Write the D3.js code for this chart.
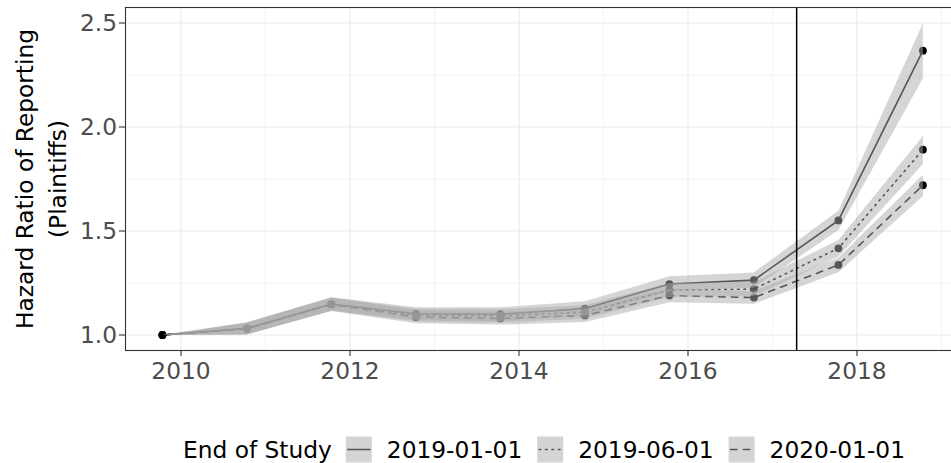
<!DOCTYPE html>
<html>
<head>
<meta charset="utf-8">
<script src="https://cdn.jsdelivr.net/npm/d3@7"></script>
<style>
  html, body { margin: 0; padding: 0; background: #fff; }
  svg { display: block; font-family: "DejaVu Sans", sans-serif; }
</style>
</head>
<body>
<svg id="chart" width="951" height="463"></svg>
<script>
// ---- data ----
const years = [2009.78, 2010.78, 2011.78, 2012.78, 2013.78, 2014.78, 2015.78, 2016.78, 2017.78, 2018.78];
const seriesNames = ["2019-01-01", "2019-06-01", "2020-01-01"];
const hr2019jan = [1.000, 1.032, 1.149, 1.102, 1.100, 1.127, 1.245, 1.264, 1.551, 2.367];
const lo2019jan = [1.000, 1.004, 1.118, 1.072, 1.068, 1.094, 1.210, 1.228, 1.505, 2.234];
const hi2019jan = [1.000, 1.062, 1.182, 1.134, 1.134, 1.162, 1.282, 1.301, 1.598, 2.499];
const hr2019jun = [1.000, 1.031, 1.148, 1.095, 1.092, 1.110, 1.216, 1.221, 1.417, 1.891];
const lo2019jun = [1.000, 1.003, 1.117, 1.065, 1.060, 1.078, 1.183, 1.188, 1.377, 1.822];
const hi2019jun = [1.000, 1.060, 1.180, 1.126, 1.125, 1.143, 1.250, 1.255, 1.457, 1.957];
const hr2020jan = [1.000, 1.030, 1.147, 1.086, 1.080, 1.094, 1.190, 1.180, 1.337, 1.720];
const lo2020jan = [1.000, 1.002, 1.116, 1.057, 1.050, 1.063, 1.158, 1.150, 1.302, 1.668];
const hi2020jan = [1.000, 1.059, 1.179, 1.117, 1.112, 1.126, 1.223, 1.212, 1.372, 1.770];
const cutoffYear = 2017.286;
const xTicks = [2010, 2012, 2014, 2016, 2018];
const xMinor = [2011, 2013, 2015, 2017, 2019];
const yTicks = [1.0, 1.5, 2.0, 2.5];
const yMinor = [1.25, 1.75, 2.25];
const dashes = [null, "1.6,4.8", "6.4,6.4"];

const series = [
  {name: seriesNames[0], hr: hr2019jan, lo: lo2019jan, hi: hi2019jan, dash: dashes[0]},
  {name: seriesNames[1], hr: hr2019jun, lo: lo2019jun, hi: hi2019jun, dash: dashes[1]},
  {name: seriesNames[2], hr: hr2020jan, lo: lo2020jan, hi: hi2020jan, dash: dashes[2]}
];

const svg = d3.select("#chart");
const L = 125, R = 961, T = 7, B = 350;
const x = d3.scaleLinear().domain([2009.337, 2019.231]).range([L, R]);
const y = d3.scaleLinear().domain([0.928, 2.577]).range([B, T]);

svg.append("rect").attr("width", 951).attr("height", 463).attr("fill", "#fff");

const clipId = "panelClip";
svg.append("clipPath").attr("id", clipId).append("rect")
  .attr("x", L).attr("y", T).attr("width", R - L).attr("height", B - T);

const g = svg.append("g");
// grid
g.selectAll(".ymin").data(yMinor).enter().append("line")
  .attr("x1", L).attr("x2", R).attr("y1", d => y(d)).attr("y2", d => y(d))
  .attr("stroke", "#ebebeb").attr("stroke-width", 0.6);
g.selectAll(".xmin").data(xMinor).enter().append("line")
  .attr("y1", T).attr("y2", B).attr("x1", d => x(d)).attr("x2", d => x(d))
  .attr("stroke", "#ebebeb").attr("stroke-width", 0.6);
g.selectAll(".ymaj").data(yTicks).enter().append("line")
  .attr("x1", L).attr("x2", R).attr("y1", d => y(d)).attr("y2", d => y(d))
  .attr("stroke", "#ebebeb").attr("stroke-width", 1.2);
g.selectAll(".xmaj").data(xTicks).enter().append("line")
  .attr("y1", T).attr("y2", B).attr("x1", d => x(d)).attr("x2", d => x(d))
  .attr("stroke", "#ebebeb").attr("stroke-width", 1.2);

const data = g.append("g").attr("clip-path", `url(#${clipId})`);
const line = d3.line().x((d, i) => x(years[i])).y(d => y(d));
series.forEach(s => {
  data.append("path").attr("d", line(s.hr)).attr("fill", "none")
    .attr("stroke", "#000").attr("stroke-width", 1.6)
    .attr("stroke-linecap", "round")
    .attr("stroke-dasharray", s.dash);
});
series.forEach(s => {
  data.selectAll(null).data(s.hr).enter().append("circle")
    .attr("cx", (d, i) => x(years[i])).attr("cy", d => y(d)).attr("r", 3.9)
    .attr("fill", "#000");
});
const area = d3.area().x((d, i) => x(years[i])).y0((d, i) => y(d.lo)).y1(d => y(d.hi));
series.forEach(s => {
  const pts = s.hr.map((v, i) => ({lo: s.lo[i], hi: s.hi[i]}));
  data.append("path").attr("d", area(pts))
    .attr("fill", "#acacac").attr("fill-opacity", 0.5);
});
data.append("line").attr("x1", x(cutoffYear)).attr("x2", x(cutoffYear))
  .attr("y1", T).attr("y2", B).attr("stroke", "#000").attr("stroke-width", 1.5);

// border
g.append("rect").attr("x", L + 0.5).attr("y", T + 0.5).attr("width", R - L).attr("height", B - T)
  .attr("fill", "none").attr("stroke", "#333").attr("stroke-width", 1.1);

// axes
const fs = 23.3;
const yAxis = g.append("g");
yAxis.selectAll("line").data(yTicks).enter().append("line")
  .attr("x1", L - 6).attr("x2", L).attr("y1", d => y(d)).attr("y2", d => y(d))
  .attr("stroke", "#333").attr("stroke-width", 1.1);
yAxis.selectAll("text").data(yTicks).enter().append("text")
  .attr("x", L - 8).attr("y", d => y(d)).attr("dy", "0.36em")
  .attr("text-anchor", "end").attr("font-size", fs).attr("fill", "#4d4d4d")
  .text(d3.format(".1f"));
const xAxis = g.append("g");
xAxis.selectAll("line").data(xTicks).enter().append("line")
  .attr("y1", B).attr("y2", B + 6).attr("x1", d => x(d)).attr("x2", d => x(d))
  .attr("stroke", "#333").attr("stroke-width", 1.1);
xAxis.selectAll("text").data(xTicks).enter().append("text")
  .attr("x", d => x(d)).attr("y", 379)
  .attr("text-anchor", "middle").attr("font-size", fs).attr("fill", "#4d4d4d")
  .text(d => d);

// y title
const yt = svg.append("text").attr("transform", "translate(33,179) rotate(-90)")
  .attr("text-anchor", "middle").attr("font-size", fs).attr("fill", "#000");
yt.append("tspan").attr("x", 0).attr("y", 0).text("Hazard Ratio of Reporting");
yt.append("tspan").attr("x", 0).attr("y", 33).text("(Plaintiffs)");

// legend
const leg = svg.append("g");
const ly = 449.5;
let cx = 183;
const title = leg.append("text").attr("x", cx).attr("y", ly).attr("dy", "0.36em")
  .attr("font-size", fs).attr("fill", "#000").text("End of Study");
cx += title.node().getComputedTextLength() + 14;
series.forEach(s => {
  leg.append("rect").attr("x", cx).attr("y", ly - 13).attr("width", 26).attr("height", 26)
    .attr("fill", "#d4d4d4");
  leg.append("line").attr("x1", cx + 2).attr("x2", cx + 24).attr("y1", ly).attr("y2", ly)
    .attr("stroke", "#555").attr("stroke-width", 1.6).attr("stroke-linecap", "round")
    .attr("stroke-dasharray", s.dash);
  cx += 26 + 15;
  const t = leg.append("text").attr("x", cx).attr("y", ly).attr("dy", "0.36em")
    .attr("font-size", fs).attr("fill", "#000").text(s.name);
  cx += t.node().getComputedTextLength() + 15;
});
</script>
</body>
</html>
